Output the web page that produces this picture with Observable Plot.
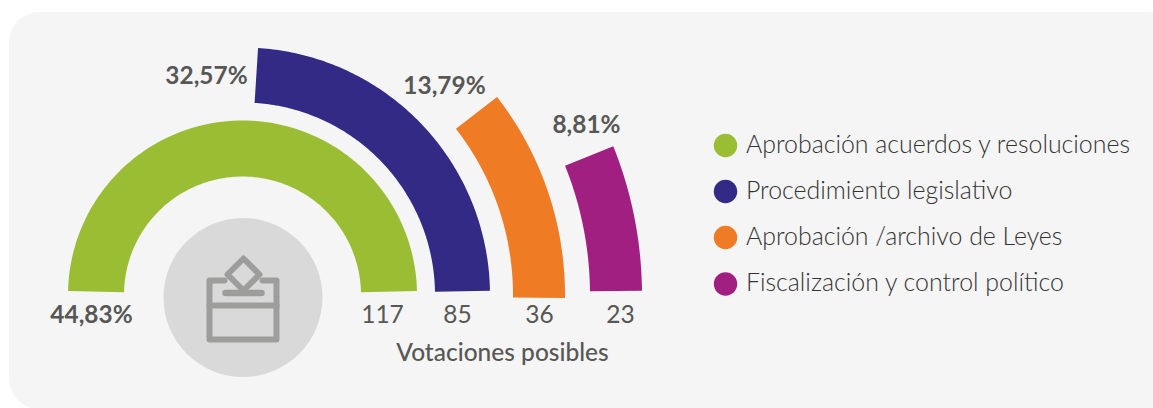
<!DOCTYPE html>
<html>
<head>
<meta charset="utf-8">
<script src="https://cdn.jsdelivr.net/npm/d3@7"></script>
<script src="https://cdn.jsdelivr.net/npm/@observablehq/plot@0.6"></script>
<style>html,body{margin:0;padding:0;background:#fff;overflow:hidden}svg{display:block}</style>
</head>
<body>
<div id="chart"></div>
<script>
// --- chart values
const categories = ["Aprobación acuerdos y resoluciones", "Procedimiento legislativo", "Aprobación /archivo de Leyes", "Fiscalización y control político"];
const shares = ["44,83%", "32,57%", "13,79%", "8,81%"];
const votes = [117, 85, 36, 23];
// angle where each arc starts and ends, degrees counter-clockwise from the right
const arcStart = [1.3, 1, -0.55, 0.6];
const arcEnd = [178.7, 86.4, 37.9, 21.85];

// --- styling and layout
const palette = ["#9bbd34", "#332a85", "#ef7b25", "#a21f82"];
const ink = "#575756";
const center = [242.5, 295];
const innerR = [118.5, 192.5, 270.5, 347.5];
const outerR = [174.5, 247.5, 322.5, 399.5];
const shareAt = [[91, 315], [206, 76], [444, 86], [586, 125]];
const voteAt = [[382, 315], [457, 315], [539, 315], [620, 315]];
const legendDotX = 725, legendTextX = 745.5;
const legendY = [145, 191, 237, 283.5];

const rows = categories.map((category, i) => ({category, share: shares[i], votes: votes[i], i}));

const arcPoints = rows.flatMap(d => {
  const a0 = arcStart[d.i], a1 = arcEnd[d.i];
  return d3.range(0, 121).map(k => {
    const t = (a0 + (a1 - a0) * k / 120) * Math.PI / 180;
    return {
      category: d.category,
      x1: center[0] + outerR[d.i] * Math.cos(t),
      y1: center[1] - outerR[d.i] * Math.sin(t),
      x2: center[0] + innerR[d.i] * Math.cos(t),
      y2: center[1] - innerR[d.i] * Math.sin(t)
    };
  });
});

const iconParts = [
  [[224, 280], [209, 280], [209, 339], [276, 339], [276, 280], [262, 280]],
  [[209, 305], [276, 305]],
  [[243, 258], [259, 274], [243, 290], [227, 274], [243, 258]]
].flatMap((pts, part) => pts.map(([x, y]) => ({x, y, part})));

const chart = Plot.plot({
  width: 1153,
  height: 408,
  margin: 0,
  style: {fontFamily: "Lato, sans-serif", background: "#fff"},
  x: {domain: [0, 1153], range: [0, 1153], axis: null},
  y: {domain: [0, 408], range: [0, 408], axis: null},
  color: {domain: categories, range: palette},
  marks: [
    // faint shapes peeking above the panel
    Plot.dot([[466, 26, 26], [590, 16, 32]], {x: d => d[0], y: d => d[1], r: d => d[2], fill: "#f5f5f5"}),
    Plot.rect([{x1: 9, x2: 1176, y1: 12, y2: 409}], {x1: "x1", x2: "x2", y1: "y1", y2: "y2", rx: 30, fill: "#f5f5f5"}),
    // rings
    Plot.area(arcPoints, {x1: "x1", y1: "y1", x2: "x2", y2: "y2", fill: "category", z: "category"}),
    // ballot box badge
    Plot.dot([[242.5, 297]], {x: d => d[0], y: d => d[1], r: 79.5, fill: "#d9d9d9"}),
    Plot.line(iconParts, {x: "x", y: "y", z: "part", stroke: "#9d9d9c", strokeWidth: 6, strokeLinejoin: "round", strokeLinecap: "round"}),
    Plot.line([[225, 292.5], [261, 292.5]], {x: d => d[0], y: d => d[1], stroke: "#9d9d9c", strokeWidth: 6.5, strokeLinecap: "round"}),
    // labels
    Plot.text(rows, {x: d => shareAt[d.i][0], y: d => shareAt[d.i][1], text: "share", fontSize: 24.4, fontWeight: 700, fill: ink}),
    Plot.text(rows, {x: d => voteAt[d.i][0], y: d => voteAt[d.i][1], text: d => String(d.votes), fontSize: 24.5, fontWeight: 400, fill: ink}),
    Plot.text(["Votaciones posibles"], {x: 502, y: 353, text: d => d, fontSize: 24.5, fontWeight: 500, fill: ink}),
    // legend
    Plot.dot(rows, {x: legendDotX, y: d => legendY[d.i], r: 11.7, fill: "category"}),
    Plot.text(rows, {x: legendTextX, y: d => legendY[d.i] - 0.5, text: "category", textAnchor: "start", fontSize: 24.9, fontWeight: 300, fill: "#333"})
  ]
});
document.getElementById("chart").append(chart);
</script>
</body>
</html>
